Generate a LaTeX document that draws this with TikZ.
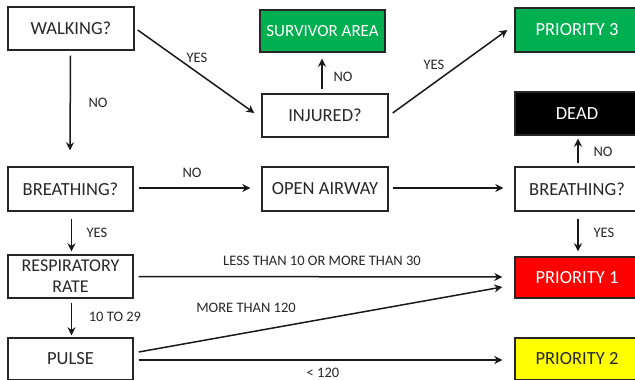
\documentclass[tikz,border=0pt]{standalone}
\usepackage{fontspec}
\setmainfont{Carlito}
\usetikzlibrary{arrows.meta}
\definecolor{txt}{RGB}{40,40,40}
\definecolor{grn}{RGB}{0,176,80}
\definecolor{rd}{RGB}{255,0,0}
\definecolor{yl}{RGB}{255,255,0}
\begin{document}
\begin{tikzpicture}[x=1pt,y=-1pt,
  box/.style={draw=black!85,line width=1.4pt,minimum width=126pt,minimum height=43pt,inner sep=0pt,font=\fontsize{18.5}{21}\selectfont,text=txt,align=center},
  lbl/.style={font=\fontsize{14.5}{16}\selectfont,text=txt,inner sep=0pt},
  arr/.style={line width=1.5pt,draw=black!90,-{Stealth[length=8pt,width=8pt]}}]
\useasboundingbox[fill=white] (0,0) rectangle (635,380);
% nodes
\node[box] (walk) at (71,28.5) {WALKING?};
\node[box,fill=grn,text=white,minimum width=125pt,minimum height=42pt,font=\fontsize{17}{20}\selectfont] (surv) at (322.5,31) {SURVIVOR AREA};
\node[box,fill=grn,text=white,minimum width=124pt,minimum height=44pt] (p3) at (577,30) {PRIORITY 3};
\node[box] (inj) at (325,115.5) {INJURED?};
\node[box,fill=black,text=white,minimum width=124pt] (dead) at (577,113.5) {DEAD};
\node[box,minimum width=125pt,minimum height=44pt] (br1) at (70.5,189) {BREATHING?};
\node[box,minimum height=44pt] (air) at (325,189) {OPEN AIRWAY};
\node[box,minimum width=124pt,minimum height=44pt] (br2) at (577,189) {BREATHING?};
\node[box,minimum width=125pt,font=\fontsize{18}{21}\selectfont] (resp) at (70.5,276.5) {RESPIRATORY\\RATE};
\node[box,fill=rd,text=white,minimum width=124pt,minimum height=41pt] (p1) at (577,277.5) {PRIORITY 1};
\node[box,minimum width=125pt,minimum height=42pt] (pulse) at (70.5,359) {PULSE};
\node[box,fill=yl,minimum width=124pt,minimum height=42pt] (p2) at (577,359) {PRIORITY 2};
% connectors
\draw[arr] ([xshift=-0.5pt,yshift=-5pt]walk.south) -- ([xshift=-0.5pt,yshift=16pt]br1.north);
\draw[arr] ([xshift=3pt,yshift=-1.5pt]walk.east) -- ([xshift=-7pt,yshift=2.5pt]inj.west);
\draw[arr] ([xshift=-3pt,yshift=4pt]inj.north) -- ([xshift=-0.5pt,yshift=-6pt]surv.south);
\draw[arr] ([xshift=4pt,yshift=2.5pt]inj.east) -- ([xshift=-7pt]p3.west);
\draw[arr] ([xshift=5pt,yshift=1pt]br1.east) -- ([xshift=-11pt,yshift=1pt]air.west);
\draw[arr] ([xshift=4pt,yshift=1pt]air.east) -- ([xshift=-11pt,yshift=1pt]br2.west);
\draw[arr] ([xshift=1pt,yshift=3pt]br2.north) -- ([xshift=1pt,yshift=-3pt]dead.south);
\draw[arr] ([xshift=1pt,yshift=-7pt]br2.south) -- ([xshift=1pt,yshift=5pt]p1.north);
\draw[arr] ([xshift=1pt,yshift=-7pt]br1.south) -- ([xshift=1pt,yshift=3pt]resp.north);
\draw[arr] ([xshift=1pt,yshift=-4pt]resp.south) -- ([xshift=1pt,yshift=2pt]pulse.north);
\draw[arr] ([xshift=5pt]resp.east) -- ([xshift=-12pt,yshift=0.5pt]p1.west);
\draw[arr] ([xshift=5pt,yshift=7pt]pulse.east) -- ([xshift=-12pt,yshift=-9.5pt]p1.west);
\draw[arr] ([xshift=5pt,yshift=-1pt]pulse.east) -- ([xshift=-12pt,yshift=-1pt]p2.west);
% labels
\node[lbl] (l1) at (98,103) {NO};
\node[lbl] (l2) at (197,58) {YES};
\node[lbl] (l3) at (343,77) {NO};
\node[lbl] (l4) at (434,65) {YES};
\node[lbl] (l5) at (192,173) {NO};
\node[lbl] (l6) at (603,152) {NO};
\node[lbl] (l7) at (604,233) {YES};
\node[lbl] (l8) at (97,233) {YES};
\node[lbl] (l9) at (115,317) {10 TO 29};
\node[lbl] (l10) at (322,261) {LESS THAN 10 OR MORE THAN 30};
\node[lbl] (l11) at (246,308) {MORE THAN 120};
\node[lbl] (l12) at (323,373) {< 120};
\end{tikzpicture}
\end{document}
